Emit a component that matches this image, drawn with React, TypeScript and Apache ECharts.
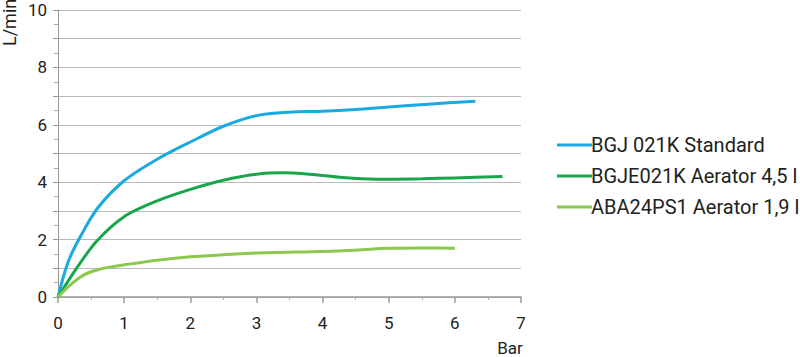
import React, { useEffect, useRef } from "react";
import * as echarts from "echarts";

const seriesNames = ["BGJ 021K Standard", "BGJE021K Aerator 4,5 l", "ABA24PS1 Aerator 1,9 l"];
const colors = ["#1aa9e0", "#19a64a", "#8cc850"];

const blue: [number, number][] = [
  [0, 0], [0.15, 1.2], [0.33, 2.07], [0.6, 3.1], [1.0, 4.05],
  [1.5, 4.8], [2.0, 5.4], [2.5, 5.95], [3.0, 6.32], [3.5, 6.44], [4.0, 6.47],
  [4.5, 6.53], [5.0, 6.62], [5.6, 6.72], [6.31, 6.82],
];
const darkGreen: [number, number][] = [
  [0, 0], [0.28, 1.0], [0.59, 1.96], [1.0, 2.8], [1.5, 3.35],
  [2.0, 3.75], [2.5, 4.07], [3.0, 4.28], [3.4, 4.33], [3.8, 4.28],
  [4.3, 4.16], [4.8, 4.1], [5.5, 4.12], [6.0, 4.15], [6.72, 4.2],
];
const lightGreen: [number, number][] = [
  [0, 0], [0.2, 0.45], [0.4, 0.78], [0.6, 0.95], [0.8, 1.05], [1.0, 1.12], [1.5, 1.28],
  [2.0, 1.4], [2.5, 1.47], [3.0, 1.53], [3.6, 1.57], [4.2, 1.6],
  [4.6, 1.65], [5.0, 1.7], [5.5, 1.71], [6.0, 1.7],
];
const seriesData = [blue, darkGreen, lightGreen];

const FONT = "Roboto";
const TEXT = "#222";

export default function App() {
  const ref = useRef<HTMLDivElement>(null);
  useEffect(() => {
    document.body.style.margin = "0";
    if (!ref.current) return;
    const chart = echarts.init(ref.current, null, { renderer: "svg" });
    chart.setOption({
      animation: false,
      grid: { left: 58, right: 279, top: 10, bottom: 60, containLabel: false },
      xAxis: {
        type: "value",
        min: 0,
        max: 7,
        interval: 1,
        axisLine: { show: true, lineStyle: { color: "#999", width: 1.5 } },
        axisTick: { show: true, length: 6, lineStyle: { color: "#999", width: 1.5 } },
        minorTick: { show: true, splitNumber: 2, length: 3, lineStyle: { color: "#aaa" } },
        splitLine: { show: false },
        axisLabel: { color: TEXT, fontSize: 17, fontFamily: FONT, margin: 17 },
      },
      yAxis: {
        type: "value",
        min: 0,
        max: 10,
        interval: 1,
        axisLine: { show: true, lineStyle: { color: "#999", width: 1 } },
        axisTick: { show: true, length: 5, lineStyle: { color: "#999" } },
        minorTick: { show: true, splitNumber: 2, length: 4, lineStyle: { color: "#aaa" } },
        splitLine: { show: true, lineStyle: { color: "#bbb", width: 1.2 } },
        axisLabel: {
          color: TEXT,
          fontSize: 17,
          fontFamily: FONT,
          margin: 11,
          formatter: (v: number) => (v % 2 === 0 ? String(v) : ""),
        },
      },
      legend: {
        orient: "vertical",
        left: 552,
        top: 130,
        itemWidth: 35,
        itemHeight: 12,
        itemGap: 11,
        icon: "path://M0,0H35V3H0Z",
        textStyle: { color: TEXT, fontSize: 20, fontFamily: FONT, padding: [0, 0, 0, -6] },
        data: seriesNames.map((n, i) => ({ name: n, itemStyle: { color: colors[i] } })),
      },
      graphic: [
        {
          type: "text",
          rotation: Math.PI / 2,
          x: 9,
          y: 46,
          style: {
            text: "L/min",
            fill: TEXT,
            font: `18px ${FONT}`,
            align: "left",
            verticalAlign: "middle",
          },
        },
        {
          type: "text",
          x: 510,
          y: 348,
          style: {
            text: "Bar",
            fill: TEXT,
            font: `17px ${FONT}`,
            align: "center",
            verticalAlign: "middle",
          },
        },
      ],
      series: seriesNames.map((name, i) => ({
        name,
        type: "line",
        data: seriesData[i],
        smooth: 0.3,
        symbol: "none",
        showSymbol: false,
        lineStyle: { color: colors[i], width: 3 },
        itemStyle: { color: colors[i] },
      })),
    });
    return () => chart.dispose();
  }, []);
  return <div ref={ref} style={{ width: 800, height: 357 }} />;
}
